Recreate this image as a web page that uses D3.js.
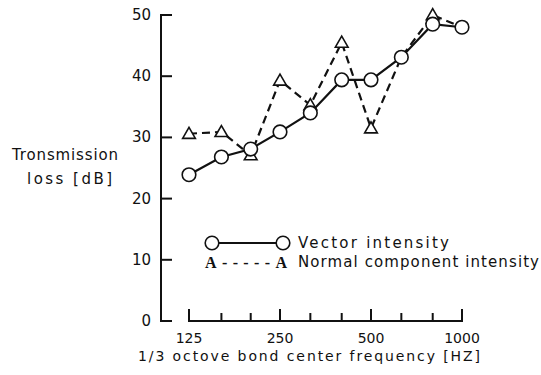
<!DOCTYPE html>
<html lang="en">
<head>
<meta charset="UTF-8">
<title>Transmission loss</title>
<script src="https://cdn.jsdelivr.net/npm/d3@7"></script>
<style>
  body { margin: 0; background: #fff; }
  text { font-family: "DejaVu Sans", sans-serif; fill: #111; }
</style>
</head>
<body>
<svg id="main" width="541" height="375"></svg>
<script>
    // 1/3 octave band centre frequencies
    const freqs = [125, 160, 200, 250, 315, 400, 500, 630, 800, 1000];
    const vectorIntensity = [23.9, 26.8, 28.1, 30.9, 34.0, 39.4, 39.4, 43.1, 48.5, 48.0];
    const normalIntensity = [30.6, 30.9, 27.1, 39.3, 35.3, 45.5, 31.5, 43.1, 50.0, 48.0];
    const yTicks = [0, 10, 20, 30, 40, 50];
    const xLabels = [125, 250, 500, 1000];

    let svg = d3.select('svg#main');

    let x = d3.scaleLog().base(2).domain([125, 1000]).range([189, 462]);
    let y = d3.scaleLinear().domain([0, 50]).range([321, 15]);

    // y axis (detached from x axis)
    svg.append('line')
        .attr('x1', 161).attr('x2', 161)
        .attr('y1', y(50)).attr('y2', y(0))
        .attr('stroke', '#111').attr('stroke-width', 2);
    svg.selectAll('.ytick').data(yTicks).enter().append('line')
        .attr('x1', 160).attr('x2', 172)
        .attr('y1', d => y(d)).attr('y2', d => y(d))
        .attr('stroke', '#111').attr('stroke-width', 2);
    svg.selectAll('.ylab').data(yTicks).enter().append('text')
        .attr('x', 151).attr('y', d => y(d) + 5)
        .attr('text-anchor', 'end')
        .style('font-size', '15px')
        .text(d => d);

    // x axis
    svg.append('line')
        .attr('x1', x(125)).attr('x2', x(1000))
        .attr('y1', y(0)).attr('y2', y(0))
        .attr('stroke', '#111').attr('stroke-width', 2);
    svg.selectAll('.xtick').data(freqs).enter().append('line')
        .attr('x1', d => x(d)).attr('x2', d => x(d))
        .attr('y1', y(0) + 1)
        .attr('y2', d => xLabels.includes(d) ? y(0) - 12 : y(0) - 8)
        .attr('stroke', '#111').attr('stroke-width', 2);
    svg.selectAll('.xlab').data(xLabels).enter().append('text')
        .attr('x', d => x(d)).attr('y', 343)
        .attr('text-anchor', 'middle')
        .style('font-size', '14px')
        .text(d => d);

    // axis titles
    svg.append('text')
        .attr('x', 138).attr('y', 361)
        .attr('textLength', 342).attr('lengthAdjust', 'spacing')
        .style('font-size', '14px')
        .text('1/3 octove bond center frequency [HZ]');
    svg.append('text')
        .attr('x', 12).attr('y', 160)
        .attr('textLength', 106).attr('lengthAdjust', 'spacing')
        .style('font-size', '15px')
        .text('Tronsmission');
    svg.append('text')
        .attr('x', 27).attr('y', 184)
        .attr('textLength', 85).attr('lengthAdjust', 'spacing')
        .style('font-size', '15px')
        .text('loss [dB]');

    let line = d3.line()
        .x((d, i) => x(freqs[i]))
        .y(d => y(d));

    let triangle = d3.symbol().type(d3.symbolTriangle).size(70);

    // normal component intensity (dashed, triangles)
    svg.append('path')
        .attr('d', line(normalIntensity))
        .attr('fill', 'none').attr('stroke', '#111')
        .attr('stroke-width', 2.2).attr('stroke-dasharray', '8,5');
    svg.selectAll('.tri')
        .data(normalIntensity.map((v, i) => ({f: freqs[i], v: v, vec: vectorIntensity[i]}))
            .filter(d => Math.abs(d.v - d.vec) > 0.5))
        .enter().append('path')
        .attr('d', triangle)
        .attr('transform', d => 'translate(' + x(d.f) + ',' + (y(d.v) + 1) + ')')
        .attr('fill', '#fff').attr('stroke', '#111').attr('stroke-width', 1.6);

    // vector intensity (solid, circles)
    svg.append('path')
        .attr('d', line(vectorIntensity))
        .attr('fill', 'none').attr('stroke', '#111').attr('stroke-width', 2.2);
    svg.selectAll('.circ').data(vectorIntensity).enter().append('circle')
        .attr('cx', (d, i) => x(freqs[i])).attr('cy', d => y(d))
        .attr('r', 6.8)
        .attr('fill', '#fff').attr('stroke', '#111').attr('stroke-width', 1.6);

    // legend
    let legend = svg.append('g');
    legend.append('line')
        .attr('x1', 212).attr('x2', 283).attr('y1', 243).attr('y2', 243)
        .attr('stroke', '#111').attr('stroke-width', 2);
    legend.selectAll('circle').data([212, 283]).enter().append('circle')
        .attr('cx', d => d).attr('cy', 243).attr('r', 6.8)
        .attr('fill', '#fff').attr('stroke', '#111').attr('stroke-width', 1.6);
    legend.append('text')
        .attr('x', 298).attr('y', 248)
        .attr('textLength', 151).attr('lengthAdjust', 'spacing')
        .style('font-size', '15px')
        .text('Vector intensity');
    legend.append('text')
        .attr('x', 205).attr('y', 268)
        .attr('textLength', 82).attr('lengthAdjust', 'spacing')
        .style('font-family', '"Liberation Serif", serif')
        .style('font-weight', 'bold')
        .style('font-size', '16px')
        .text('A-----A');
    legend.append('text')
        .attr('x', 298).attr('y', 267)
        .attr('textLength', 241).attr('lengthAdjust', 'spacing')
        .style('font-size', '15px')
        .text('Normal component intensity');
</script>
</body>
</html>
